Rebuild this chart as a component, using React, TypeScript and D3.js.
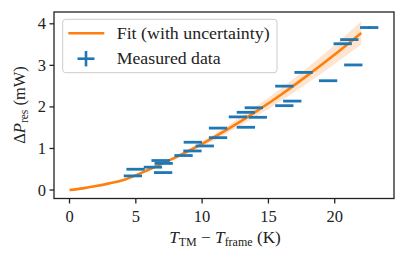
import React from "react";
import * as d3 from "d3";

const measX = [4.78, 4.98, 6.29, 7.06, 6.87, 7.1, 8.6, 9.3, 9.27, 10.2, 11.2, 11.2, 13.3, 12.7, 13.3, 14.2, 13.9, 16.2, 16.8, 16.2, 17.65, 19.5, 21.4, 20.6, 21.1, 22.6];
const measY = [0.34, 0.5, 0.55, 0.42, 0.71, 0.64, 0.83, 1.15, 0.94, 1.06, 1.26, 1.49, 1.51, 1.76, 1.87, 1.75, 1.98, 2.03, 2.14, 2.5, 2.83, 2.63, 3.01, 3.52, 3.62, 3.91];
const measXerr = [0.69, 0.69, 0.69, 0.69, 0.69, 0.69, 0.69, 0.69, 0.69, 0.69, 0.69, 0.69, 0.69, 0.69, 0.69, 0.69, 0.69, 0.69, 0.69, 0.69, 0.69, 0.69, 0.69, 0.69, 0.69, 0.69];
const measYerr = [0.01, 0.01, 0.01, 0.01, 0.01, 0.01, 0.01, 0.01, 0.01, 0.01, 0.01, 0.01, 0.01, 0.01, 0.01, 0.01, 0.01, 0.01, 0.01, 0.01, 0.01, 0.01, 0.01, 0.01, 0.01, 0.03];

// Fit curve with uncertainty band
const fitX = [0, 1, 2, 3, 4, 6, 8, 10, 12, 14, 16, 18, 20, 22];
const fitY = [0, 0.04, 0.095, 0.16, 0.235, 0.495, 0.785, 1.11, 1.475, 1.875, 2.305, 2.77, 3.26, 3.78];
const fitErr = [0, 0.001, 0.003, 0.006, 0.01, 0.02, 0.04, 0.06, 0.09, 0.12, 0.15, 0.19, 0.23, 0.28];

const xTicks = [0, 5, 10, 15, 20];
const yTicks = [0, 1, 2, 3, 4];

const BLUE = "#1f77b4";
const ORANGE = "#ff7f0e";
const FONT = "'Liberation Serif', 'DejaVu Serif', serif";

export default function App() {
  const W = 406, H = 261;
  const L = 54, R = 394, T = 12, B = 198.5;
  const x = d3.scaleLinear().domain([-1.17, 24.47]).range([L, R]);
  const y = d3.scaleLinear().domain([-0.204, 4.284]).range([B, T]);

  const fitPts = fitX.map((v, i) => ({ x: v, y: fitY[i], e: fitErr[i] }));
  const line = d3.line<any>().x(d => x(d.x)).y(d => y(d.y)).curve(d3.curveMonotoneX);
  const area = d3.area<any>().x(d => x(d.x)).y0(d => y(d.y - d.e)).y1(d => y(d.y + d.e)).curve(d3.curveMonotoneX);

  const fs = 16.5;

  return (
    <svg width={W} height={H} style={{ position: "absolute", left: 0, top: 0, background: "#fff" }} fontFamily={FONT}>
      <rect x={0} y={0} width={W} height={H} fill="#fff" />
      {/* band and fit */}
      <path d={area(fitPts) || ""} fill={ORANGE} fillOpacity={0.2} stroke="none" />
      <path d={line(fitPts) || ""} fill="none" stroke={ORANGE} strokeWidth={2.6} />
      {/* measured data */}
      {measX.map((v, i) => (
        <g key={i} stroke={BLUE} strokeWidth={2.8}>
          <line x1={x(v - measXerr[i])} x2={x(v + measXerr[i])} y1={y(measY[i])} y2={y(measY[i])} />
          <line x1={x(v)} x2={x(v)} y1={y(measY[i] - measYerr[i])} y2={y(measY[i] + measYerr[i])} />
        </g>
      ))}
      {/* spines */}
      <rect x={L} y={T} width={R - L} height={B - T} fill="none" stroke="#222" strokeWidth={1.3} />
      {/* x ticks */}
      {xTicks.map(t => (
        <g key={"x" + t}>
          <line x1={x(t)} x2={x(t)} y1={B} y2={B + 5} stroke="#222" strokeWidth={1.3} />
          <text x={x(t)} y={B + 23} textAnchor="middle" fontSize={fs} fill="#222">{t}</text>
        </g>
      ))}
      {yTicks.map(t => (
        <g key={"y" + t}>
          <line x1={L - 4.5} x2={L} y1={y(t)} y2={y(t)} stroke="#222" strokeWidth={1.3} />
          <text x={L - 8} y={y(t) + 5.5} textAnchor="end" fontSize={fs} fill="#222">{t}</text>
        </g>
      ))}
      {/* x label */}
      <text x={225} y={243} textAnchor="middle" fontSize={17.2} fill="#222">
        <tspan fontStyle="italic">T</tspan>
        <tspan fontSize={12} dy={3}>TM</tspan>
        <tspan dy={-3}> − </tspan>
        <tspan fontStyle="italic">T</tspan>
        <tspan fontSize={12} dy={3}>frame</tspan>
        <tspan dy={-3}> (K)</tspan>
      </text>
      {/* y label */}
      <text transform="translate(25,105) rotate(-90)" textAnchor="middle" fontSize={fs} fill="#222">
        <tspan>Δ</tspan>
        <tspan fontStyle="italic">P</tspan>
        <tspan fontSize={11.5} dy={3}>res</tspan>
        <tspan dy={-3}> (mW)</tspan>
      </text>
      {/* legend */}
      <rect x={62.7} y={19.3} width={214.3} height={53.4} rx={3} fill="#fff" fillOpacity={0.8} stroke="#cccccc" strokeWidth={1} />
      <line x1={68.3} x2={104.3} y1={33.3} y2={33.3} stroke={ORANGE} strokeWidth={2.6} />
      <text x={116.7} y={39} fontSize={fs} fill="#222" textLength={153} lengthAdjust="spacingAndGlyphs">Fit (with uncertainty)</text>
      <g stroke={BLUE} strokeWidth={2.6}>
        <line x1={77.5} x2={94.5} y1={58.7} y2={58.7} />
        <line x1={86} x2={86} y1={51} y2={66.4} />
      </g>
      <text x={116.7} y={64.3} fontSize={fs} fill="#222" textLength={104} lengthAdjust="spacingAndGlyphs">Measured data</text>
    </svg>
  );
}
